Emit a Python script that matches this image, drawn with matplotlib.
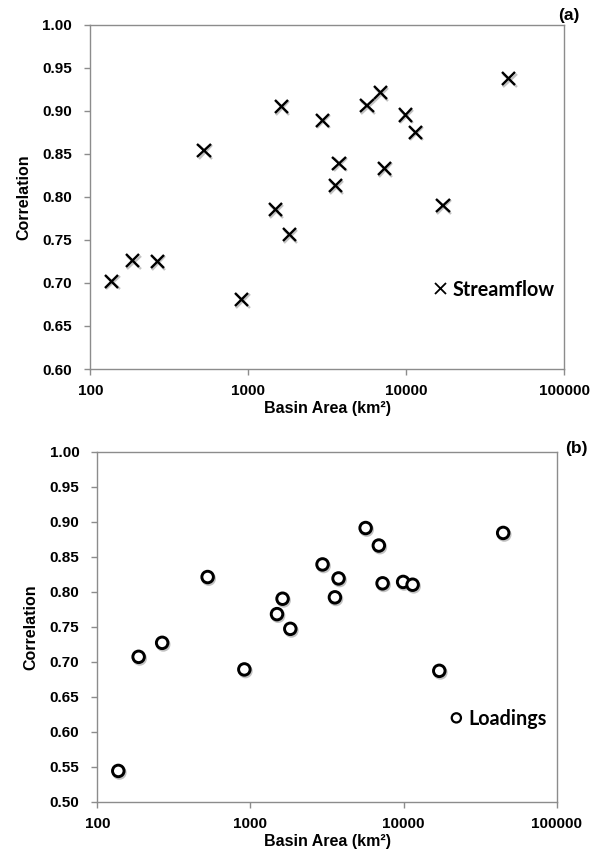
import matplotlib
matplotlib.use("Agg")
import matplotlib.pyplot as plt
import matplotlib.patheffects as pe
from matplotlib.ticker import FixedLocator, NullLocator


# basin areas (km2), same basins in both panels
BASIN_AREA = [137, 186, 265, 525, 912, 1490, 1620, 1820, 2955, 3560,
              3760, 5650, 6890, 7290, 9930, 11450, 17100, 44700]
STREAMFLOW_CORR = [0.702, 0.726, 0.725, 0.854, 0.681, 0.785, 0.905, 0.756, 0.889, 0.813,
                   0.839, 0.906, 0.921, 0.833, 0.895, 0.875, 0.790, 0.937]
LOADINGS_CORR = [0.544, 0.707, 0.727, 0.821, 0.689, 0.768, 0.790, 0.747, 0.839, 0.792,
                 0.819, 0.891, 0.866, 0.812, 0.814, 0.810, 0.687, 0.884]

X_TICKS = [100, 1000, 10000, 100000]
X_TICK_LABELS = ["100", "1000", "10000", "100000"]
Y_TICKS_A = [0.60, 0.65, 0.70, 0.75, 0.80, 0.85, 0.90, 0.95, 1.00]
Y_TICKS_B = [0.50, 0.55, 0.60, 0.65, 0.70, 0.75, 0.80, 0.85, 0.90, 0.95, 1.00]

FRAME_COLOR = "#8c8c8c"
TICK_FONT = {"family": "Liberation Sans", "weight": "bold", "size": 11}
LABEL_FONT = {"family": "Liberation Sans", "weight": "bold", "size": 11.5}
LEGEND_FONT = {"family": "Lato", "weight": "bold", "size": 14.2}

SHADOW = [pe.SimpleLineShadow(offset=(0.8, -1.2), shadow_color="#9a9a9a", alpha=0.6), pe.Normal()]


def style_axes(ax, y_ticks, panel_label, label_pos):
    ax.set_xscale("log")
    ax.set_xlim(100, 100000)
    ax.set_ylim(y_ticks[0], y_ticks[-1])
    ax.xaxis.set_major_locator(FixedLocator(X_TICKS))
    ax.xaxis.set_minor_locator(NullLocator())
    ax.set_xticks(X_TICKS)
    ax.set_xticklabels(X_TICK_LABELS, fontdict=TICK_FONT)
    ax.set_yticks(y_ticks)
    ax.set_yticklabels([f"{v:.2f}" for v in y_ticks], fontdict=TICK_FONT)
    ax.tick_params(axis="both", direction="out", length=4, width=1, color=FRAME_COLOR)
    ax.tick_params(axis="x", pad=7)
    ax.tick_params(axis="y", pad=9)
    for spine in ax.spines.values():
        spine.set_color(FRAME_COLOR)
        spine.set_linewidth(1.0)
    ax.set_xlabel("Basin Area (km²)", fontdict=LABEL_FONT, labelpad=2)
    ax.set_ylabel("Correlation", fontdict=LABEL_FONT, labelpad=8)
    ax.text(label_pos[0], label_pos[1], panel_label, transform=ax.transAxes, ha="center", va="center",
            family="Liberation Sans", weight="bold", size=12.5)


def main():
    fig = plt.figure(figsize=(5.9, 8.57), dpi=100)

    ax_a = fig.add_axes([0.153, 0.5694, 0.803, 0.402])
    ax_a.plot(BASIN_AREA, STREAMFLOW_CORR, linestyle="none", marker="x", markersize=9.5,
              markeredgewidth=1.7, color="black", label="Streamflow", path_effects=SHADOW)
    style_axes(ax_a, Y_TICKS_A, "(a)", (1.01, 1.025))
    leg = ax_a.legend(loc="center left", bbox_to_anchor=(0.69, 0.23), frameon=False,
                      prop=LEGEND_FONT, handlelength=0.6, handletextpad=0.3, markerscale=0.85)
    for handle in leg.legend_handles:
        handle.set_path_effects([pe.Normal()])
        handle.set_markeredgewidth(1.3)

    ax_b = fig.add_axes([0.165, 0.0645, 0.7786, 0.4084])
    ax_b.plot(BASIN_AREA, LOADINGS_CORR, linestyle="none", marker="o", markersize=8.3,
              markeredgewidth=2.1, markerfacecolor="white", markeredgecolor="black",
              label="Loadings", path_effects=SHADOW)
    style_axes(ax_b, Y_TICKS_B, "(b)", (1.043, 1.01))
    leg = ax_b.legend(loc="center left", bbox_to_anchor=(0.73, 0.237), frameon=False,
                      prop=LEGEND_FONT, handlelength=0.6, handletextpad=0.3, markerscale=0.8)
    for handle in leg.legend_handles:
        handle.set_path_effects([pe.Normal()])
        handle.set_markeredgewidth(1.6)

    fig.savefig("out.png", dpi=100)
    plt.close(fig)


if __name__ == "__main__":
    main()
